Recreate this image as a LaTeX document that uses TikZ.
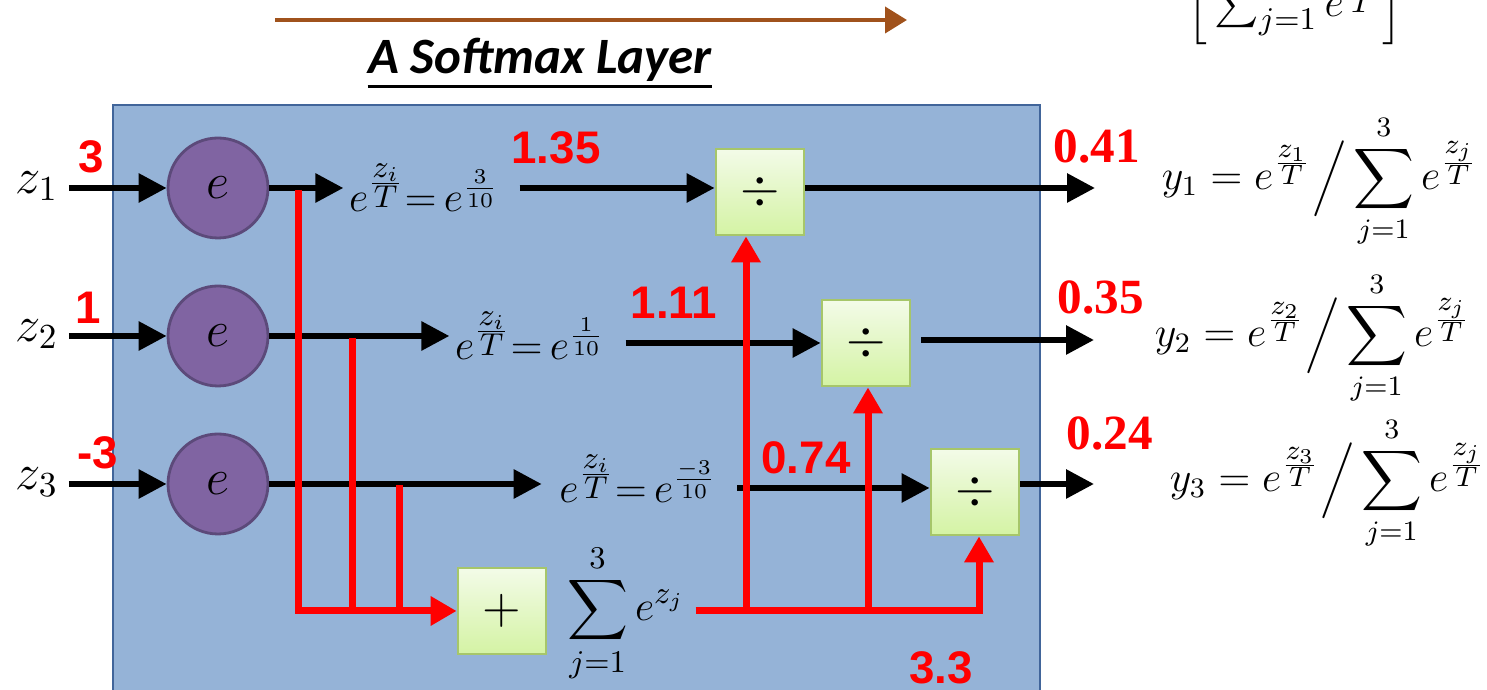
\documentclass[tikz,border=0pt]{standalone}
\usepackage{fontspec}
\usepackage{amsmath}
\usetikzlibrary{arrows.meta}
\newfontfamily\sansnum{Liberation Sans}
\newfontfamily\serifnum{Liberation Serif}
\newfontfamily\titlefont{Carlito}
\definecolor{panelblue}{HTML}{95B3D7}
\definecolor{paneledge}{HTML}{41659A}
\definecolor{nodepurple}{HTML}{8064A2}
\definecolor{nodeedge}{HTML}{5C4A7A}
\definecolor{boxtop}{HTML}{F3FBE8}
\definecolor{boxbottom}{HTML}{D4F3A4}
\definecolor{boxedge}{HTML}{A6C66A}
\definecolor{flowbrown}{HTML}{A0521C}

\begin{document}
\begin{tikzpicture}[x=0.1mm, y=-0.1mm,
      enode/.style  = {circle, draw=nodeedge, line width=0.8pt, fill=nodepurple,
                       minimum size=10mm, inner sep=0pt,
                       font=\fontsize{15}{17}\selectfont},
      opbox/.style  = {draw=boxedge, line width=0.8pt,
                       top color=boxtop, bottom color=boxbottom,
                       minimum width=8.8mm, minimum height=8.6mm, inner sep=0pt,
                       font=\fontsize{14}{16}\selectfont},
      blk/.style    = {line width=0.6mm, -{Triangle[length=2.8mm, width=2.8mm]}},
      redl/.style   = {red, line width=0.7mm},
      redarr/.style = {redl, -{Triangle[length=2.6mm, width=2.8mm]}},
      val/.style    = {red, font=\sansnum\bfseries\fontsize{13}{15}\selectfont},
      outval/.style = {red, font=\serifnum\bfseries\fontsize{14}{16}\selectfont},
      frm/.style    = {inner xsep=0.5mm, inner ysep=0pt,
                       font=\fontsize{12.5}{14}\selectfont},
      yfrm/.style   = {inner sep=0pt, font=\fontsize{11.5}{13}\selectfont}
    ]

    \useasboundingbox (0,0) rectangle (1487,690);
    \clip (0,0) rectangle (1487,690);

    % layer panel
    \fill[panelblue] (113,105) rectangle (1040,700);
    \draw[paneledge, line width=0.25mm] (113,700) -- (113,105) -- (1040,105) -- (1040,700);

    \coordinate (flowa) at (275,20);
    \coordinate (flowb) at (907,20);
    \draw[flowbrown, line width=0.4mm, -{Triangle[length=2.2mm, width=2.6mm]}] (flowa) -- (flowb);

    \node[font=\titlefont\bfseries\itshape\fontsize{14.5}{17}\selectfont,
          inner xsep=0pt, inner ysep=0.4mm] (title) at (540,60) {A Softmax Layer};
    \draw[line width=0.3mm] (title.south west) -- (title.south east);

    \node[anchor=base west, inner sep=0pt, font=\fontsize{13}{15}\selectfont] (topfrm) at (1187,17)
          {$\Big[\sum_{j=1}^{n} e^{\frac{\scriptstyle z_j}{\scriptstyle T}}\Big]$};

    % inputs and exponentials
    \node[inner sep=1mm, font=\fontsize{14}{16}\selectfont] (z1) at (37,186) {$z_1$};
    \node[inner sep=1mm, font=\fontsize{14}{16}\selectfont] (z2) at (37,334) {$z_2$};
    \node[inner sep=1mm, font=\fontsize{14}{16}\selectfont] (z3) at (37,482) {$z_3$};

    \node[val] (in1) at (91,157) {3};
    \node[val] (in2) at (88,308) {1};
    \node[val] (in3) at (98,453) {-3};

    \node[enode] (e1) at (218,188) {$e$};
    \node[enode] (e2) at (218,336) {$e$};
    \node[enode] (e3) at (218,484) {$e$};

    \node[frm] (x1) at (424,188) {$e^{\frac{\scriptstyle z_i}{\scriptstyle T}}{=}\,e^{\frac{3}{10}}$};
    \node[frm] (x2) at (530,336) {$e^{\frac{\scriptstyle z_i}{\scriptstyle T}}{=}\,e^{\frac{1}{10}}$};
    \node[frm] (x3) at (638,479) {$e^{\frac{\scriptstyle z_i}{\scriptstyle T}}{=}\,e^{\frac{-3}{10}}$};

    \node[opbox] (d1) at (760,192) {$\div$};
    \node[opbox] (d2) at (866,343) {$\div$};
    \node[opbox] (d3) at (975,492) {$\div$};
    \node[opbox] (plus) at (502,611) {$+$};
    \node[inner sep=0pt, font=\fontsize{13}{15}\selectfont] (sumlbl) at (626,613)
          {$\displaystyle\sum_{j=1}^{3} e^{z_j}$};

    \node[val] (s1) at (556,148) {1.35};
    \node[val] (s2) at (674,303) {1.11};
    \node[val] (s3) at (806,458) {0.74};
    \node[val] (tot) at (941,668) {3.3};

    \coordinate (out1) at (1095,188);
    \coordinate (out2) at (1094,340);
    \coordinate (out3) at (1094,484);
    \node[outval] (p1) at (1097,146) {0.41};
    \node[outval] (p2) at (1101,297) {0.35};
    \node[outval] (p3) at (1110,433) {0.24};

    \node[yfrm] (y1) at (1320,181)
          {$\displaystyle y_1 = e^{\frac{\scriptstyle z_1}{\scriptstyle T}}\Big/\sum_{j=1}^{3} e^{\frac{\scriptstyle z_j}{\scriptstyle T}}$};
    \node[yfrm] (y2) at (1313,338)
          {$\displaystyle y_2 = e^{\frac{\scriptstyle z_2}{\scriptstyle T}}\Big/\sum_{j=1}^{3} e^{\frac{\scriptstyle z_j}{\scriptstyle T}}$};
    \node[yfrm] (y3) at (1328,483)
          {$\displaystyle y_3 = e^{\frac{\scriptstyle z_3}{\scriptstyle T}}\Big/\sum_{j=1}^{3} e^{\frac{\scriptstyle z_j}{\scriptstyle T}}$};

    % black flow
    \draw[blk] (z1.east |- e1) -- (e1);
    \draw[blk] (z2.east |- e2) -- (e2);
    \draw[blk] (z3.east |- e3) -- (e3);
    \draw[blk] (e1) -- (x1.west |- e1);
    \draw[blk] (e2) -- (x2.west |- e2);
    \draw[blk, shorten >=1.2mm] (e3) -- (x3.west |- e3);
    \draw[blk, shorten <=1.5mm] (x1.east |- e1) -- (d1.west |- e1);
    \draw[blk, shorten <=1.5mm] (x2.east |- d2) -- (d2);
    \draw[blk, shorten <=1.5mm] (x3.east |- 0,488) -- (d3.west |- 0,488);
    \draw[blk] (d1.east |- out1) -- (out1);
    \draw[blk] ([xshift=1mm]d2.east |- out2) -- (out2);
    \draw[blk] (d3.east |- out3) -- (out3);

    % red sum path
    \coordinate (b1) at (298,190);
    \coordinate (b2) at (352,338);
    \coordinate (b3) at (399,485);
    \coordinate (j1) at (746,611);
    \coordinate (j2) at (868,611);
    \coordinate (j3) at (979,611);
    \draw[redarr] (b1) |- (plus);
    \draw[redl] (b2) -- (b2 |- plus);
    \draw[redl] (b3) -- (b3 |- plus);
    \draw[redarr] ([xshift=1mm]sumlbl.east |- plus) -| (j3 |- d3.south);
    \draw[redarr] (j1) -- (j1 |- d1.south);
    \draw[redarr] (j2) -- (j2 |- d2.south);
  \end{tikzpicture}
\end{document}
